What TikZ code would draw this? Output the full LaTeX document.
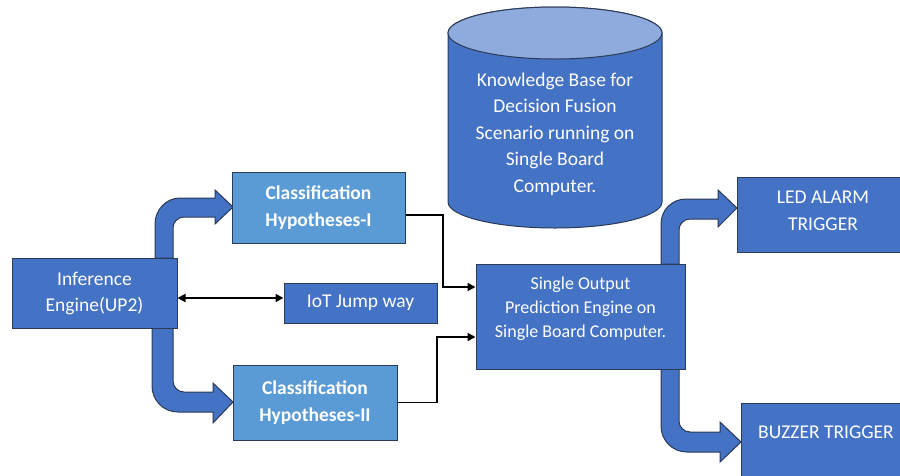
\documentclass[tikz,border=0pt]{standalone}
\usepackage{fontspec}
\setmainfont{Carlito}
\usetikzlibrary{arrows.meta}
\definecolor{dblue}{HTML}{4472C4}
\definecolor{lblue}{HTML}{5B9BD5}
\definecolor{tblue}{HTML}{8FAADC}
\definecolor{edge}{HTML}{2B3A55}
\tikzset{
  box/.style={draw=edge, line width=1pt, fill=dblue, text=white, align=center,
    font=\fontsize{19.5}{26}\selectfont, inner sep=0pt},
  lbox/.style={box, fill=lblue, font=\fontsize{19.5}{27.5}\selectfont\bfseries},
  blockarrow/.style={draw=edge, line width=1pt, fill=dblue, line join=miter},
  conn/.style={draw=black, line width=1.8pt, -{Triangle[length=8pt,width=8pt]}},
  dconn/.style={draw=black, line width=1.8pt, {Triangle[length=8pt,width=8pt]}-{Triangle[length=8pt,width=8pt]}},
  wtext/.style={text=white, align=center, inner sep=0pt}
}
\begin{document}
\begin{tikzpicture}[x=1pt,y=1pt]
\useasboundingbox (0,0) rectangle (900,-475);
\clip (0,0) rectangle (900,-475);
\fill[white] (0,0) rectangle (900,-475);
% cylinder
\draw[draw=edge, line width=1pt, fill=dblue] (448,-33) -- (448,-202)
  arc[start angle=180, end angle=360, x radius=107, y radius=26] -- (662,-33)
  arc[start angle=0, end angle=180, x radius=107, y radius=26] -- cycle;
\draw[draw=edge, line width=1pt, fill=tblue] (555,-33) ellipse [x radius=107, y radius=26];
\node[wtext, font=\fontsize{19.5}{26.6}\selectfont] (kb) at (555,-134)
  {Knowledge Base for\\Decision Fusion\\Scenario running on\\Single Board\\Computer.};
% block arrows
\draw[blockarrow] (155,-258) -- (155,-224) .. controls (155,-210) and (166,-198) .. (180,-198) -- (215,-198)
  -- (215,-190) -- (233,-207) -- (215,-224) -- (215,-217) -- (184,-217)
  .. controls (178,-217) and (173,-222) .. (173,-228) -- (173,-258) -- cycle;
\draw[blockarrow] (152,-328) -- (152,-386) .. controls (152,-400) and (163,-412) .. (178,-412) -- (213,-412)
  -- (213,-423) -- (233,-402) -- (213,-383) -- (213,-392) -- (184,-392)
  .. controls (178,-392) and (173,-387) .. (173,-381) -- (173,-328) -- cycle;
\draw[blockarrow] (661,-264) -- (661,-224) .. controls (661,-210) and (672,-199) .. (686,-199) -- (718,-199)
  -- (718,-190) -- (737,-208) -- (718,-227) -- (718,-219) -- (690,-219)
  .. controls (684,-219) and (679,-224) .. (679,-230) -- (679,-264) -- cycle;
\draw[blockarrow] (661,-369) -- (661,-426) .. controls (661,-440) and (672,-452) .. (687,-452) -- (720,-452)
  -- (720,-462) -- (741,-442) -- (720,-422) -- (720,-432) -- (690,-432)
  .. controls (684,-432) and (679,-427) .. (679,-421) -- (679,-369) -- cycle;
% boxes
\node[box, minimum width=165pt, minimum height=70pt] (inf) at (94.5,-293) {Inference\\Engine(UP2)};
\node[lbox, minimum width=173pt, minimum height=71pt] (c1) at (318.5,-207.5) {Classification\\Hypotheses-I};
\node[box, minimum width=153pt, minimum height=40pt] (iot) at (360.5,-303) {IoT Jump way};
\node[lbox, minimum width=164pt, minimum height=75pt] (c2) at (315,-402.5) {Classification\\Hypotheses-II};
\node[box, minimum width=209pt, minimum height=105pt] (so) at (580.5,-316.5) {};
\node[wtext, font=\fontsize{18}{24}\selectfont] (sotext) at (580.5,-309) {Single Output\\Prediction Engine on\\Single Board Computer.};
\node[box, minimum width=172pt, minimum height=75pt] (led) at (823,-214.5) {};
\node[wtext, font=\fontsize{19.5}{27}\selectfont] (ledtext) at (823,-211) {LED ALARM\\TRIGGER};
\node[box, minimum width=170pt, minimum height=75pt] (buz) at (826,-440.5) {};
\node[wtext, font=\fontsize{19.5}{26}\selectfont] (buztext) at (826,-432) {BUZZER TRIGGER};
% connectors
\coordinate (j1) at (443,-287);
\coordinate (j2) at (437,-337);
\coordinate (dl) at (0,-298);
\draw[conn] ([yshift=-7.5pt]c1.east) -| (j1) -- (j1 -| so.west);
\draw[conn] (c2.east) -| (j2) -- (j2 -| so.west);
\draw[dconn] (inf.east |- dl) -- (iot.west |- dl);
\end{tikzpicture}
\end{document}
